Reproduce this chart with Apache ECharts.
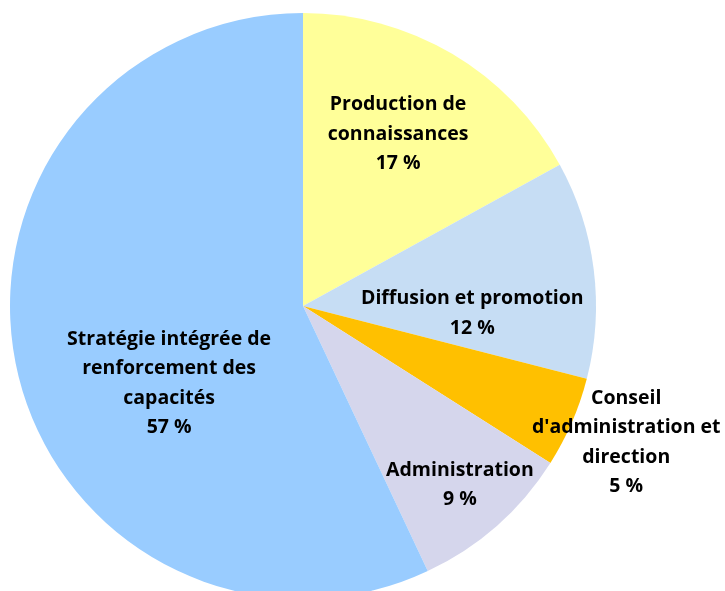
<!DOCTYPE html>
<html>
<head>
<meta charset="utf-8">
<script src="https://cdn.jsdelivr.net/npm/echarts@6/dist/echarts.min.js"></script>
<style>html,body{margin:0;padding:0;background:#fff;}#c{width:725px;height:591px;}</style>
</head>
<body>
<div id="c"></div>
<script>
const categories = [
  "Production de\nconnaissances",
  "Diffusion et promotion",
  "Conseil\nd'administration et\ndirection",
  "Administration",
  "Stratégie intégrée de\nrenforcement des\ncapacités"
];
const values = [17, 12, 5, 9, 57];
const colors = ["#FFFF99", "#C6DDF4", "#FFC000", "#D5D6EC", "#99CCFF"];
const labelOffsets = [[19, -43], [21, 26], [186, 77], [58, 67], [12, 45]];

const chart = echarts.init(document.getElementById('c'));
chart.setOption({
  animation: false,
  series: [{
    type: 'pie',
    center: [303, 306],
    radius: [0, 293],
    startAngle: 90,
    clockwise: true,
    avoidLabelOverlap: false,
    labelLayout: { hideOverlap: false },
    data: categories.map((name, i) => ({
      name: name,
      value: values[i],
      itemStyle: { color: colors[i] },
      label: { offset: labelOffsets[i] }
    })),
    label: {
      show: true,
      position: 'inside',
      formatter: p => p.name + '\n' + p.value + ' %',
      color: '#000',
      fontFamily: 'Open Sans',
      fontWeight: 'bold',
      fontSize: 19.5,
      lineHeight: 29.5,
      align: 'center'
    },
    labelLine: { show: false },
    emphasis: { disabled: true }
  }]
});
</script>
</body>
</html>
